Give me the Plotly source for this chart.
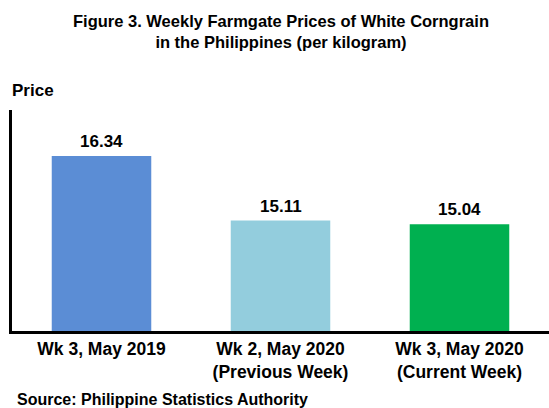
import plotly.graph_objects as go

categories = ["Wk 3, May 2019", "Wk 2, May 2020<br>(Previous Week)", "Wk 3, May 2020<br>(Current Week)"]
prices = [16.34, 15.11, 15.04]
colors = ["#5B8DD5", "#93CDDD", "#00B050"]

FONT = "Liberation Sans, Arial, sans-serif"

fig = go.Figure()
fig.add_trace(go.Bar(
    x=list(range(len(categories))), y=prices,
    marker=dict(color=colors, line=dict(width=0)),
    width=0.556,
    hoverinfo="skip",
))

for i, v in enumerate(prices):
    fig.add_annotation(
        x=i, y=v, text=f"<b>{v:.2f}</b>", showarrow=False,
        yanchor="bottom", yshift=3,
        font=dict(family=FONT, size=17, color="black"),
    )

fig.add_annotation(
    xref="paper", yref="paper", x=0.5, y=1, yshift=79, yanchor="middle",
    text="<b>Figure 3. Weekly Farmgate Prices of White Corngrain<br>in the Philippines (per kilogram)</b>",
    showarrow=False, font=dict(family=FONT, size=16.5, color="black"),
)
fig.add_annotation(
    xref="paper", yref="paper", x=0, xshift=-2, y=1, yshift=20, xanchor="left", yanchor="middle",
    text="<b>Price</b>", showarrow=False, font=dict(family=FONT, size=17, color="black"),
)
fig.add_annotation(
    xref="paper", yref="paper", x=0, xshift=3, y=0, yshift=-68, xanchor="left", yanchor="middle",
    text="<b>Source: Philippine Statistics Authority</b>", showarrow=False,
    font=dict(family=FONT, size=16, color="black"),
)

fig.update_layout(
    width=549, height=408,
    margin=dict(l=12, r=0, t=110, b=77),
    paper_bgcolor="white", plot_bgcolor="white",
    showlegend=False,
    font=dict(family=FONT, color="black"),
    xaxis=dict(
        tickmode="array", tickvals=list(range(len(categories))),
        ticktext=[f"<b>{c}</b>" for c in categories],
        range=[-0.5, 2.5], showline=True, linewidth=3, linecolor="black",
        ticks="", showgrid=False, zeroline=False,
        tickfont=dict(family=FONT, size=17.5, color="black"),
    ),
    yaxis=dict(
        range=[13, 17.22], showline=True, linewidth=3, linecolor="black",
        showticklabels=False, ticks="", showgrid=False, zeroline=False,
    ),
)

fig.write_html(
    "out.html",
    config={"displayModeBar": False},
    post_script="document.body.style.margin='0';document.body.style.overflow='hidden';",
)
